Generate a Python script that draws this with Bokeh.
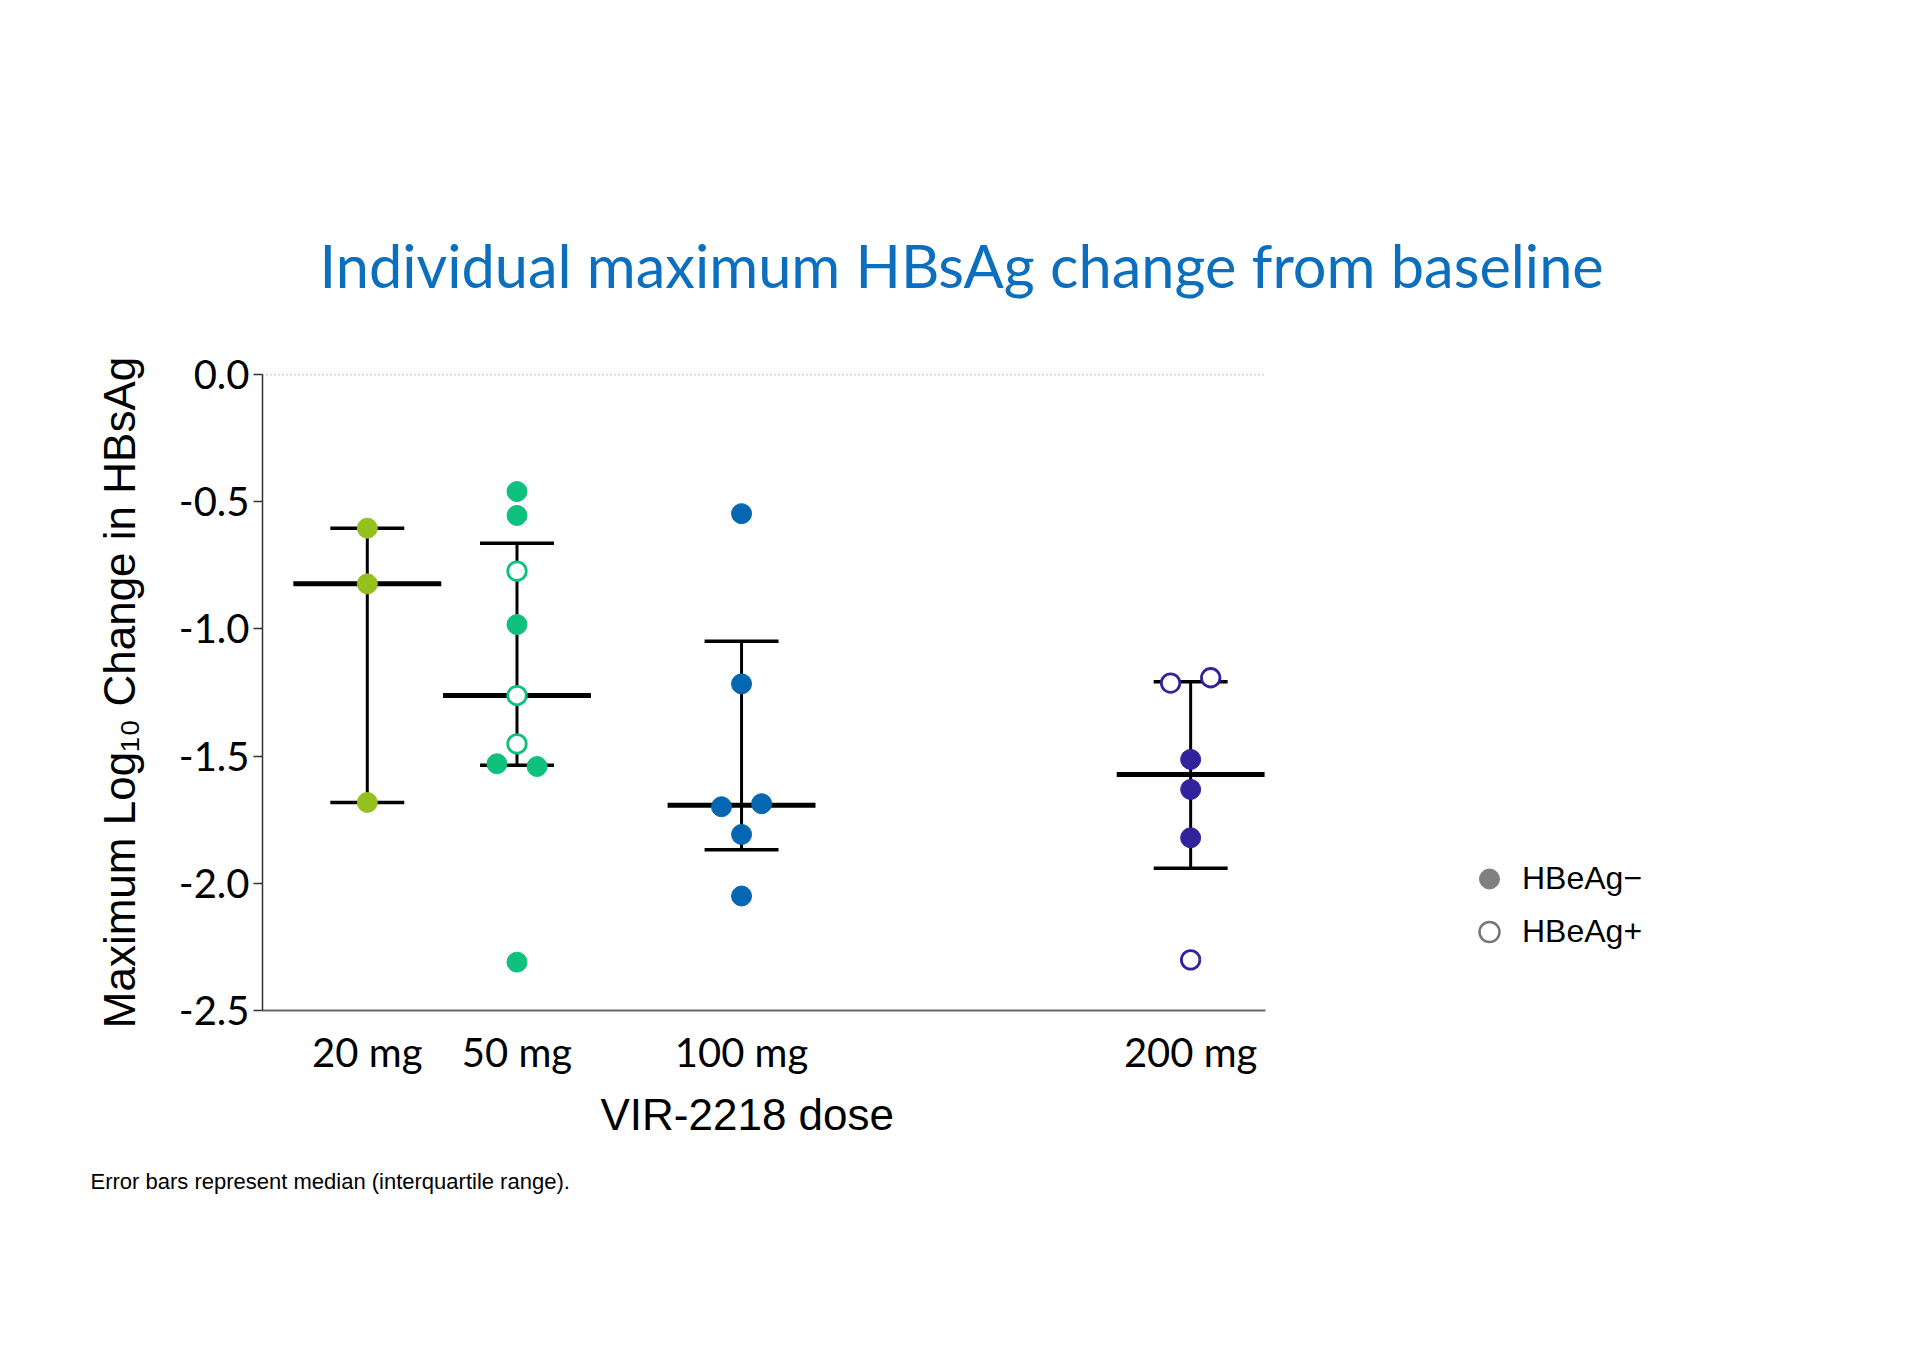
import numpy as np
from bokeh.plotting import figure
from bokeh.models import Range1d, FixedTicker, Span, Title, Legend, LegendItem
from bokeh.embed import file_html
from bokeh.resources import INLINE

# ---------------- data ----------------
doses = ["20 mg", "50 mg", "100 mg", "200 mg"]
dose_pos = [1.0, 2.0, 3.5, 6.5]
dose_colors = ["#95c11f", "#10c07f", "#0567b1", "#33229b"]

vals_20 = [-0.604, -0.823, -1.682]
hbeag_pos_20 = [False, False, False]

vals_50 = [-0.46, -0.554, -0.773, -0.983, -1.262, -1.452, -1.530, -1.541, -2.31]
hbeag_pos_50 = [False, False, True, False, True, True, False, False, False]

vals_100 = [-0.547, -1.216, -1.699, -1.687, -1.808, -2.05]
hbeag_pos_100 = [False, False, False, False, False, False]

vals_200 = [-1.213, -1.192, -1.513, -1.631, -1.821, -2.301]
hbeag_pos_200 = [True, True, False, False, False, True]

y_ticks = [0.0, -0.5, -1.0, -1.5, -2.0, -2.5]
y_tick_labels = ["0.0", "-0.5", "-1.0", "-1.5", "-2.0", "-2.5"]

title_text = "Individual maximum HBsAg change from baseline"
y_label = "Maximum Log\u2081\u2080 Change in HBsAg"
x_label = "VIR-2218 dose"
footnote = "Error bars represent median (interquartile range)."
legend_labels = ["HBeAg\u2212", "HBeAg+"]

groups = [(vals_20, hbeag_pos_20), (vals_50, hbeag_pos_50),
          (vals_100, hbeag_pos_100), (vals_200, hbeag_pos_200)]

# ---------------- figure ----------------
W, H = 1904, 1340
BL, BR, BT, BB = 262, 639, 374, 330
p = figure(width=W, height=H, output_backend="svg", toolbar_location=None,
           x_range=Range1d(0.3, 7.0), y_range=Range1d(-2.5, 0.0),
           min_border_left=BL, min_border_right=BR, min_border_top=BT, min_border_bottom=BB)
p.outline_line_color = None
p.xgrid.visible = False
p.ygrid.visible = False
p.background_fill_color = "white"

# zero reference line
p.add_layout(Span(location=0.0, dimension="width", line_color="#555555",
                  line_width=1.5, line_dash="1 3"))

# summary: median + IQR (GraphPad style, (n+1) quantiles)
cap_half = 0.247
med_half = 0.494
for (vals, _), xc in zip(groups, dose_pos):
    arr = np.array(vals)
    q1, med, q3 = np.percentile(arr, [25, 50, 75], method="weibull")
    p.segment(x0=[xc], y0=[q1], x1=[xc], y1=[q3], line_color="black", line_width=3)
    p.segment(x0=[xc - cap_half, xc - cap_half], y0=[q1, q3],
              x1=[xc + cap_half, xc + cap_half], y1=[q1, q3],
              line_color="black", line_width=3.5)
    p.segment(x0=[xc - med_half], y0=[med], x1=[xc + med_half], y1=[med],
              line_color="black", line_width=5)

# points, dodging near-equal values
dodge = 0.134
for (vals, posflag), xc, col in zip(groups, dose_pos, dose_colors):
    n = len(vals)
    offs = [0.0] * n
    used = [False] * n
    for i in range(n):
        if used[i]:
            continue
        for j in range(i + 1, n):
            if not used[j] and abs(vals[i] - vals[j]) < 0.04:
                offs[i], offs[j] = -dodge, dodge
                used[i] = used[j] = True
                break
    xs = [xc + o for o in offs]
    fx = [x for x, f in zip(xs, posflag) if not f]
    fy = [v for v, f in zip(vals, posflag) if not f]
    ox = [x for x, f in zip(xs, posflag) if f]
    oy = [v for v, f in zip(vals, posflag) if f]
    if fx:
        p.scatter(fx, fy, size=20, fill_color=col, line_color=col, line_width=1)
    if ox:
        p.scatter(ox, oy, size=18.5, fill_color="white", line_color=col, line_width=2.8)

# axes
p.yaxis.ticker = FixedTicker(ticks=y_ticks)
p.yaxis.major_label_overrides = {t: l for t, l in zip(y_ticks, y_tick_labels)}
p.yaxis.minor_tick_line_color = None
p.yaxis.major_tick_out = 9
p.yaxis.major_tick_in = 0
p.yaxis.major_tick_line_width = 1.5
p.yaxis.major_tick_line_color = "#333333"
p.yaxis.axis_line_color = "#333333"
p.yaxis.axis_line_width = 1.5
p.yaxis.major_label_standoff = 4
p.yaxis.major_label_text_font = "Lato"
p.yaxis.major_label_text_font_size = "40px"
p.yaxis.major_label_text_color = "black"
p.yaxis.axis_label = y_label
p.yaxis.axis_label_text_font = "Liberation Sans"
p.yaxis.axis_label_text_font_style = "normal"
p.yaxis.axis_label_text_font_size = "44px"
p.yaxis.axis_label_text_color = "black"
p.yaxis.axis_label_standoff = 32

p.xaxis.ticker = FixedTicker(ticks=dose_pos)
p.xaxis.major_label_overrides = {t: l for t, l in zip(dose_pos, doses)}
p.xaxis.minor_tick_line_color = None
p.xaxis.major_tick_line_color = None
p.xaxis.major_tick_out = 0
p.xaxis.major_tick_in = 0
p.xaxis.axis_line_color = "#666666"
p.xaxis.axis_line_width = 2
p.xaxis.major_label_standoff = 17
p.xaxis.major_label_text_font = "Lato"
p.xaxis.major_label_text_font_size = "40px"
p.xaxis.major_label_text_color = "black"

# title above the plot
p.add_layout(Title(text=title_text, align="left", offset=57, standoff=148,
                   text_font="Lato", text_font_size="59.5px", text_font_style="normal",
                   text_color="#0b6fbd"), "above")

# x axis label and footnote below
p.add_layout(Title(text=x_label, align="left", offset=338, standoff=19,
                   text_font="Liberation Sans", text_font_size="44px", text_font_style="normal",
                   text_color="black"), "below")
p.add_layout(Title(text=footnote, align="left", offset=-172, standoff=37,
                   text_font="Liberation Sans", text_font_size="22px", text_font_style="normal",
                   text_color="black"), "below")

# legend at right (placeholder renderers carry only the legend style)
r_neg = p.scatter([np.nan], [np.nan], size=20, fill_color="#808080", line_color="#808080")
r_pos = p.scatter([np.nan], [np.nan], size=20, fill_color="white", line_color="#777777",
                  line_width=2.5)
legend = Legend(items=[LegendItem(label=legend_labels[0], renderers=[r_neg]),
                       LegendItem(label=legend_labels[1], renderers=[r_pos])],
                location=(199, 52), orientation="vertical",
                glyph_width=50, glyph_height=53, label_height=53, label_standoff=8,
                spacing=0, padding=0, margin=0,
                border_line_color=None, background_fill_alpha=0,
                label_text_font="Liberation Sans", label_text_font_size="32px",
                label_text_color="black")
p.add_layout(legend, "right")

open("out.html", "w").write(file_html(p, INLINE))
